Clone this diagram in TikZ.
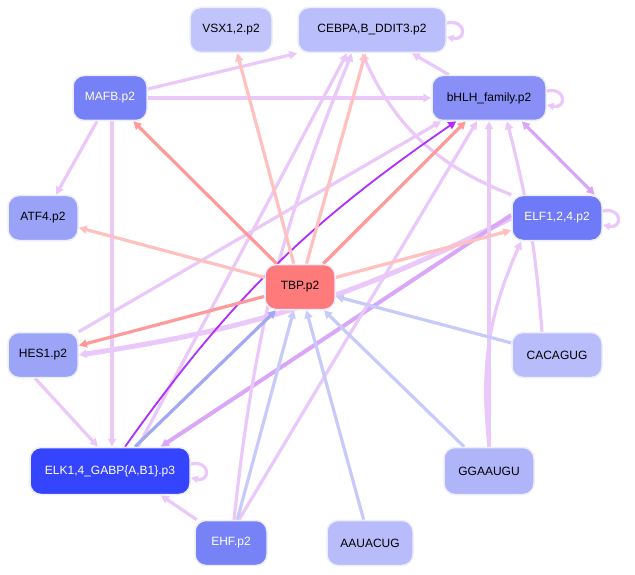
\documentclass[tikz,border=0pt]{standalone}
\usepackage{fontspec}
\setmainfont{Liberation Sans}
\usetikzlibrary{arrows.meta}
\pgfdeclarelayer{bg}\pgfsetlayers{bg,main}
\definecolor{lav}{HTML}{EBC8FA}
\definecolor{lavd}{HTML}{D9A6F8}
\definecolor{purp}{HTML}{B02CFF}
\definecolor{pk}{HTML}{FFC0C0}
\definecolor{pkd}{HTML}{FF9A9A}
\definecolor{bl}{HTML}{C6CBFA}
\definecolor{bld}{HTML}{A0A9F2}
\begin{document}
\begin{tikzpicture}[x=1pt,y=-1pt,
  nd/.style={rounded corners=11pt,draw={rgb,255:red,236;green,238;blue,255},line width=1.5pt,minimum height=45pt,inner sep=0pt,font=\fontsize{12}{14}\selectfont},
  e/.style={line width=3.2pt,-{Triangle[length=8pt,width=8pt]}},
  ]
\useasboundingbox (0,0) rectangle (635,575);
\node[nd,fill={rgb,255:red,192;green,196;blue,250},minimum width=82pt] (vsx) at (231,30) {VSX1,2.p2};
\node[nd,fill={rgb,255:red,186;green,190;blue,250},minimum width=148pt] (ceb) at (372,30) {CEBPA,B\_DDIT3.p2};
\node[nd,fill={rgb,255:red,118;green,128;blue,247},text=white,minimum width=74pt] (mafb) at (110,98) {MAFB.p2};
\node[nd,fill={rgb,255:red,136;green,144;blue,247},minimum width=114pt] (bhlh) at (489,98) {bHLH\_family.p2};
\node[nd,fill={rgb,255:red,154;green,162;blue,248},minimum width=70pt] (atf) at (43,218) {ATF4.p2};
\node[nd,fill={rgb,255:red,110;green,122;blue,247},text=white,minimum width=90pt] (elf) at (557,218) {ELF1,2,4.p2};
\node[nd,fill={rgb,255:red,255;green,122;blue,122},minimum width=70pt] (tbp) at (300,287) {TBP.p2};
\node[nd,fill={rgb,255:red,156;green,164;blue,248},minimum width=70pt] (hes) at (43,355) {HES1.p2};
\node[nd,fill={rgb,255:red,184;green,188;blue,250},minimum width=90pt] (cac) at (557,355) {CACAGUG};
\node[nd,fill={rgb,255:red,52;green,68;blue,255},text=white,minimum width=160pt,minimum height=47pt] (elk) at (110,471) {ELK1,4\_GABP\{A,B1\}.p3};
\node[nd,fill={rgb,255:red,176;green,180;blue,249},minimum width=90pt,minimum height=47pt] (gga) at (489,471) {GGAAUGU};
\node[nd,fill={rgb,255:red,120;green,130;blue,247},text=white,minimum width=72pt] (ehf) at (231,543) {EHF.p2};
\node[nd,fill={rgb,255:red,184;green,188;blue,250},minimum width=86pt] (aau) at (370,543) {AAUACUG};
\begin{pgfonlayer}{bg}
\fill[white] (0,0) rectangle (635,575);
% lavender edges
\draw[e,lav] (mafb) -- (ceb.south west);
\draw[e,lav,line width=4pt] (mafb) -- (bhlh);
\draw[e,lav] (mafb) -- (atf);
\draw[e,lav] ([xshift=2pt]mafb.south) -- ([xshift=2pt]mafb.south |- elk.north);
\draw[e,lav] (bhlh) -- (ceb);
\draw[e,lavd,{Triangle[length=8pt,width=8pt]}-{Triangle[length=8pt,width=8pt]}] ([xshift=-25pt]bhlh.south east) -- ([xshift=-8pt]elf.north east);
\draw[e,lav] (elf.north west) to[bend left=22] ([xshift=-10pt]ceb.south);
\draw[e,lav] (hes.north east) -- ([xshift=10pt]bhlh.south west);
\draw[e,lav] ([xshift=-8pt]hes.south) -- ([xshift=-12pt]elk.north);
\draw[e,lav,line width=5pt] (elf.west) to[bend left=9] (hes.east);
\draw[e,lavd,line width=4pt] ([yshift=3pt]elf.west) -- ([xshift=-30pt]elk.north east);
\draw[e,lav] ([xshift=3pt]ehf.north) to[bend left=8] ([xshift=-20pt]ceb.south);
\draw[e,lav] ([xshift=8pt]ehf.north) -- ([xshift=-12pt]bhlh.south);
\draw[e,lav] (ehf) -- ([xshift=-30pt]elk.south east);
\draw[e,lav] ([xshift=28pt]elk.north) -- ([xshift=-25pt]ceb.south);
\draw[e,lav] (gga.north) -- (bhlh.south);
\draw[e,lav] (gga.north) to[bend left=15] ([xshift=10pt]elf.south west);
\draw[e,lav] ([xshift=-15pt]cac.north) to[bend right=5] ([xshift=18pt]bhlh.south);
\draw[e,purp,line width=1.8pt] ([xshift=15pt]elk.north) to[bend left=10] ([xshift=25pt]bhlh.south west);
% self loops
\foreach \n in {ceb,bhlh,elf,elk}{
  \draw[e,lav,-{Triangle[length=7pt,width=7pt]}] ([yshift=7pt]\n.east) .. controls +(20,-4) and +(20,4) .. ([yshift=-7pt]\n.east);
}
% TBP out
\draw[e,pk] (tbp) -- (vsx);
\draw[e,pk] (tbp) -- (ceb);
\draw[e,pkd] (tbp) -- (mafb);
\draw[e,pkd] (tbp) -- (bhlh);
\draw[e,pk] (tbp) -- (atf);
\draw[e,pk] (tbp) -- (elf);
\draw[e,pkd] (tbp) -- (hes);
% into TBP
\draw[e,bld] (elk) -- (tbp);
\draw[e,bl] (ehf) -- (tbp);
\draw[e,bl] (aau) -- (tbp);
\draw[e,bl] (gga) -- (tbp);
\draw[e,bl] (cac) -- (tbp);
\end{pgfonlayer}
\end{tikzpicture}
\end{document}
